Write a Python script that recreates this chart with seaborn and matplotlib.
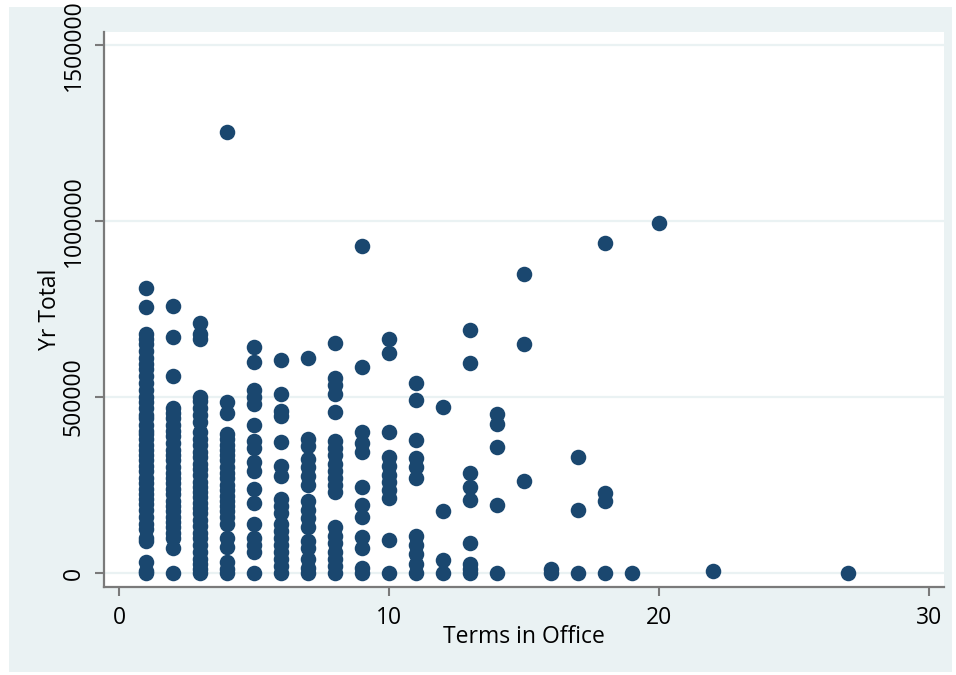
import matplotlib
matplotlib.use("Agg")
import matplotlib.pyplot as plt
from matplotlib.patches import Rectangle
import numpy as np
import pandas as pd
import seaborn as sns

# Yearly totals grouped by number of terms served
yr_total_1 = [810000, 755000, 680000, 665000, 650000, 630000, 610000, 595000, 580000,
              560000, 540000, 520000, 500000, 485000, 470000, 450000, 440000, 420000,
              405000, 395000, 380000, 365000, 350000, 335000, 320000, 305000, 290000,
              270000, 255000, 240000, 225000, 210000, 195000, 180000, 160000, 140000,
              125000, 100000, 90000, 30000, 5000, 0]
yr_total_2 = [760000, 672000, 560000, 470000, 455000, 440000, 420000, 405000, 390000,
              370000, 350000, 335000, 320000, 300000, 285000, 270000, 255000, 240000,
              225000, 205000, 190000, 175000, 160000, 145000, 130000, 115000, 100000,
              70000, 0]
yr_total_3 = [712000, 680000, 665000, 500000, 490000, 470000, 450000, 428000, 400000,
              380000, 365000, 345000, 330000, 310000, 295000, 280000, 260000, 245000,
              230000, 215000, 200000, 185000, 170000, 150000, 135000, 115000, 100000,
              80000, 60000, 40000, 25000, 10000, 0]
yr_total_4 = [1255000, 485000, 455000, 395000, 380000, 365000, 350000, 335000, 320000,
              300000, 285000, 270000, 250000, 235000, 220000, 205000, 190000, 175000,
              160000, 140000, 100000, 75000, 30000, 10000, 0]
yr_total_5 = [642000, 600000, 520000, 500000, 480000, 420000, 375000, 355000, 315000,
              290000, 240000, 200000, 140000, 100000, 80000, 60000, 0]
yr_total_6 = [605000, 510000, 460000, 445000, 372000, 305000, 275000, 210000, 190000,
              170000, 140000, 120000, 100000, 80000, 60000, 40000, 20000, 0]
yr_total_7 = [611000, 380000, 360000, 325000, 300000, 275000, 250000, 205000, 180000,
              155000, 130000, 90000, 70000, 40000, 15000, 0]
yr_total_8 = [653000, 555000, 535000, 510000, 458000, 375000, 355000, 335000, 310000,
              290000, 270000, 250000, 230000, 130000, 105000, 85000, 60000, 40000,
              20000, 0]
yr_total_9 = [929000, 585000, 400000, 370000, 345000, 245000, 193000, 159000, 102000,
              71000, 14000, 0]
yr_total_10 = [665000, 625000, 400000, 330000, 305000, 280000, 258000, 235000, 212000,
               94000, 0]
yr_total_11 = [540000, 492000, 378000, 328000, 300000, 270000, 105000, 80000, 55000,
               25000, 0]
yr_total_12 = [472000, 176000, 37000, 0]
yr_total_13 = [690000, 597000, 284000, 244000, 207000, 85000, 25000, 10000, 0]
yr_total_14 = [452000, 423000, 358000, 193000, 0]
yr_total_15 = [849000, 650000, 262000]
yr_total_16 = [10000, 0]
yr_total_17 = [330000, 179000, 0]
yr_total_18 = [937000, 227000, 205000, 0]
yr_total_19 = [0]
yr_total_20 = [995000]
yr_total_22 = [6000]
yr_total_27 = [0]

terms = [1, 2, 3, 4, 5, 6, 7, 8, 9, 10, 11, 12, 13, 14, 15, 16, 17, 18, 19, 20, 22, 27]
totals_by_term = [yr_total_1, yr_total_2, yr_total_3, yr_total_4, yr_total_5,
                  yr_total_6, yr_total_7, yr_total_8, yr_total_9, yr_total_10,
                  yr_total_11, yr_total_12, yr_total_13, yr_total_14, yr_total_15,
                  yr_total_16, yr_total_17, yr_total_18, yr_total_19, yr_total_20,
                  yr_total_22, yr_total_27]

x_ticks = [0, 10, 20, 30]
y_ticks = [0, 500000, 1000000, 1500000]
y_tick_labels = ["0", "500000", "1000000", "1500000"]

df = pd.DataFrame(
    [(t, v) for t, vals in zip(terms, totals_by_term) for v in vals],
    columns=["Terms in Office", "Yr Total"],
)

sns.set_theme(style="white")
plt.rcParams["font.family"] = ["Open Sans", "DejaVu Sans"]

W, H = 956, 675
fig = plt.figure(figsize=(W / 100, H / 100), dpi=100, facecolor="white")

# light outer panel behind the plot region
fig.patches.append(Rectangle((9 / W, 1 - 672 / H), (952 - 9) / W, (672 - 7) / H,
                             transform=fig.transFigure, facecolor="#eaf2f3",
                             edgecolor="none", zorder=-10))

ax = fig.add_axes([104 / W, 1 - 587 / H, (944 - 104) / W, (587 - 32) / H])
ax.set_zorder(1)
ax.set_facecolor("white")

sns.scatterplot(data=df, x="Terms in Office", y="Yr Total", ax=ax,
                color="#1a476f", s=125, linewidth=0, zorder=3, legend=False)

ax.set_xlim(-0.556, 30.556)
ax.set_ylim(-39800, 1538000)

ax.set_xticks(x_ticks)
ax.set_xticklabels([str(t) for t in x_ticks])
ax.set_yticks(y_ticks)
ax.set_yticklabels(y_tick_labels, rotation=90, va="center")

ax.yaxis.grid(True, color="#eaf2f3", linewidth=1.6, zorder=0)
ax.xaxis.grid(False)

for side in ["top", "right"]:
    ax.spines[side].set_visible(False)
for side in ["left", "bottom"]:
    ax.spines[side].set_color("#7a7a7a")
    ax.spines[side].set_linewidth(1.6)

ax.tick_params(axis="both", which="major", direction="out", length=6.5, width=1.5,
               color="#7a7a7a", labelsize=16.5, labelcolor="black",
               left=True, bottom=True)
ax.tick_params(axis="y", pad=6.5)
ax.tick_params(axis="x", pad=7)

ax.set_xlabel("Terms in Office", fontsize=16.5, color="black", labelpad=-3.5)
ax.set_ylabel("Yr Total", fontsize=16.5, color="black", labelpad=0)

fig.savefig("out.png", dpi=100, facecolor="white")
